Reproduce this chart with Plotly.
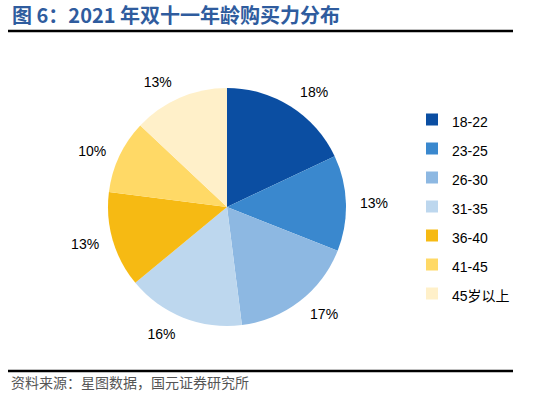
import plotly.graph_objects as go

categories = ["18-22", "23-25", "26-30", "31-35", "36-40", "41-45", "45岁以上"]
values = [18, 13, 17, 16, 13, 10, 13]
colors = ["#0B4EA2", "#3A88CE", "#8DB8E2", "#BDD7EE", "#F6BA13", "#FFD966", "#FFF0C9"]

title_text = "图 6：2021 年双十一年龄购买力分布"
source_text = "资料来源：星图数据，国元证券研究所"

W, H = 547, 396
cx, cy, R = 227, 207, 119
RL = R + 10  # radius of the invisible pie that carries the outside labels

legend_labels = ['<span style="font-size:14px">%s</span>' % c for c in categories]


def dom(r):
    return dict(x=[(cx - r) / W, (cx + r) / W], y=[(H - cy - r) / H, (H - cy + r) / H])


fig = go.Figure()
# invisible pie carrying the percentage labels (slightly larger radius)
fig.add_trace(go.Pie(
    labels=legend_labels,
    values=values,
    sort=False,
    direction="clockwise",
    rotation=0,
    marker=dict(colors=["rgba(0,0,0,0)"] * len(values), line=dict(width=0)),
    texttemplate="%{percent:.0%}",
    textposition="outside",
    outsidetextfont=dict(family="Liberation Sans, Arial", size=14, color="#000000"),
    domain=dom(RL),
    showlegend=False,
    hoverinfo="skip",
))
# visible pie
fig.add_trace(go.Pie(
    labels=legend_labels,
    values=values,
    sort=False,
    direction="clockwise",
    rotation=0,
    marker=dict(colors=colors, line=dict(width=0)),
    textinfo="none",
    domain=dom(R),
    showlegend=True,
    hoverinfo="skip",
))

fig.update_layout(
    width=W, height=H,
    margin=dict(l=0, r=0, t=0, b=0),
    paper_bgcolor="white", plot_bgcolor="white",
    font=dict(family="Liberation Sans, Arial, Noto Sans CJK SC", color="#000000"),
    legend=dict(
        x=412 / W, xanchor="left",
        y=1 - 100 / H, yanchor="top",
        font=dict(size=20, family="Liberation Sans, Arial, Noto Sans CJK SC", color="#000000"),
        bgcolor="rgba(0,0,0,0)",
        itemclick=False, itemdoubleclick=False,
    ),
    shapes=[
        dict(type="line", xref="paper", yref="paper", x0=8 / W, x1=513 / W,
             y0=1 - 31 / H, y1=1 - 31 / H, line=dict(color="#000000", width=2.5)),
        dict(type="line", xref="paper", yref="paper", x0=8 / W, x1=513 / W,
             y0=1 - 371 / H, y1=1 - 371 / H, line=dict(color="#000000", width=2.5)),
    ],
    annotations=[
        dict(text="<b>" + title_text + "</b>", xref="paper", yref="paper",
             x=10 / W, y=1 - 15 / H, xanchor="left", yanchor="middle", showarrow=False,
             font=dict(family="Noto Sans CJK SC, Liberation Sans", size=20, color="#2F5C9E")),
        dict(text=source_text, xref="paper", yref="paper",
             x=9 / W, y=1 - 382 / H, xanchor="left", yanchor="middle", showarrow=False,
             font=dict(family="Noto Sans CJK SC", size=14, color="#555555")),
    ],
)

fig.write_html("out.html", config={"displayModeBar": False},
               post_script="document.body.style.margin='0';document.body.style.padding='0';")
